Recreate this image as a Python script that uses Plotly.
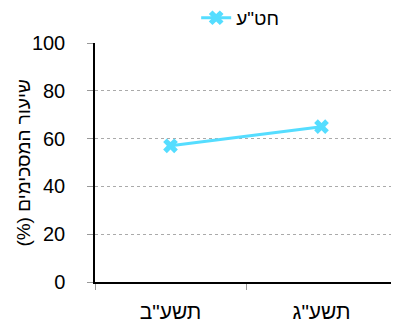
import plotly.graph_objects as go

categories = ['תשע"ב', 'תשע"ג']
values = [57, 65]
series_name = 'חט"ע'
y_ticks = [0, 20, 40, 60, 80, 100]
y_title = "שיעור המסכימים (%)\u200f"

color = "#55DDFF"
font = "Liberation Sans, Arial, sans-serif"

fig = go.Figure()
fig.add_trace(go.Scatter(
    x=categories, y=values, name=series_name, mode="lines+markers",
    line=dict(color=color, width=3),
    marker=dict(symbol="x", size=13, color=color, line=dict(width=0)),
))

fig.update_layout(
    width=399, height=322,
    margin=dict(l=87, r=10, t=35, b=48, autoexpand=False),
    paper_bgcolor="white", plot_bgcolor="white",
    font=dict(family=font, size=19, color="black"),
    showlegend=True,
    legend=dict(orientation="h", x=0.335, xanchor="left", y=1.105, yanchor="middle",
                font=dict(size=19), bgcolor="rgba(0,0,0,0)"),
    xaxis=dict(
        type="category", range=[-0.5, 1.5], automargin=False,
        showline=True, linecolor="black", linewidth=1.5,
        ticks="outside", tickson="boundaries", ticklen=6, tickcolor="#999999",
        showgrid=False, tickfont=dict(size=21), ticklabelstandoff=10,
    ),
    yaxis=dict(
        range=[0, 100], tickvals=y_ticks, automargin=False,
        showline=True, linecolor="black", linewidth=1.5,
        ticks="outside", ticklen=6, tickcolor="#999999",
        showgrid=True, gridcolor="#AAAAAA", griddash="dot", gridwidth=1,
        zeroline=False, tickfont=dict(size=20), ticklabelstandoff=18,
    ),
    annotations=[dict(
        text=y_title, textangle=-90, xref="paper", yref="paper",
        x=-0.238, y=0.5, xanchor="center", yanchor="middle",
        showarrow=False, font=dict(size=19),
    )],
)

fig.write_html("out.html")
